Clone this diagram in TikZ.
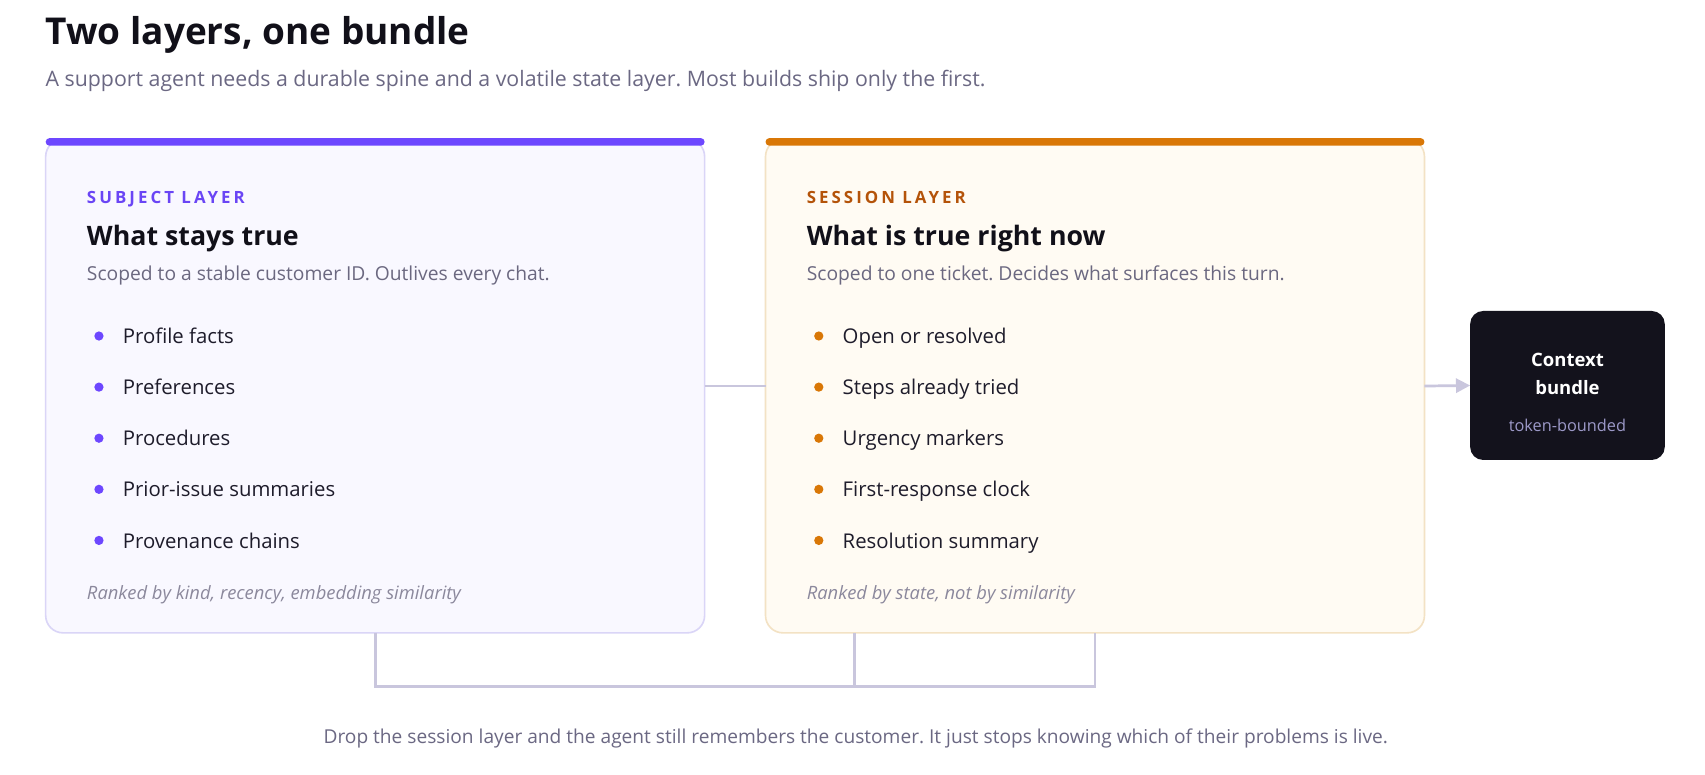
\documentclass[tikz,border=0pt]{standalone}
\usepackage{fontspec}
\setmainfont{Open Sans}
\usetikzlibrary{arrows.meta,calc}
\definecolor{ink}{HTML}{111019}
\definecolor{subc}{HTML}{6B6883}
\definecolor{purp}{HTML}{6D47FF}
\definecolor{purlab}{HTML}{6A45F5}
\definecolor{cardAf}{HTML}{F9F8FF}
\definecolor{cardAd}{HTML}{DAD5F7}
\definecolor{orng}{HTML}{D97706}
\definecolor{orlab}{HTML}{B45309}
\definecolor{cardBf}{HTML}{FFFBF3}
\definecolor{cardBd}{HTML}{F3E2C4}
\definecolor{itemc}{HTML}{1E1C2B}
\definecolor{descc}{HTML}{6B6880}
\definecolor{footc}{HTML}{8B889C}
\definecolor{linec}{HTML}{C9C6DD}
\definecolor{ctxc}{HTML}{13121C}
\definecolor{tokc}{HTML}{9C99C8}
\begin{document}
\frenchspacing
\begin{tikzpicture}[x=1pt,y=-1pt,
  every node/.style={inner sep=0pt, outer sep=0pt},
  txt/.style={anchor=base west},
  ttl/.style={txt, font=\fontsize{34}{40}\selectfont\bfseries, text=ink},
  subt/.style={txt, font=\fontsize{19.6}{24}\selectfont, text=subc},
  lab/.style={txt, font=\fontsize{15.5}{18}\selectfont\bfseries\addfontfeatures{LetterSpace=18}},
  head/.style={txt, font=\fontsize{24.6}{30}\selectfont\bfseries, text=ink},
  desc/.style={txt, font=\fontsize{17.7}{21}\selectfont, text=descc},
  item/.style={txt, font=\fontsize{18.7}{22}\selectfont, text=itemc},
  foot/.style={txt, font=\fontsize{16.9}{20}\selectfont\itshape, text=footc},
  dot/.style={circle, minimum size=8.5pt},
  card/.style={rounded corners=16pt, line width=1.5pt, minimum width=606pt, minimum height=454pt},
  conn/.style={draw=linec, line width=2.5pt},
]
\fill[white] (0,0) rectangle (1568,712);
\useasboundingbox (0,0) rectangle (1568,712);

% title
\node[ttl] (title) at (42,41) {Two layers, one bundle};
\node[subt] (subtitle) at (42,80) {A support agent needs a durable spine and a volatile state layer. Most builds ship only the first.};

% cards
\node[card, draw=cardAd, fill=cardAf] (subj) at (345,355) {};
\node[card, draw=cardBd, fill=cardBf] (sess) at (1007,355) {};
\fill[purp, rounded corners=3.5pt] ([yshift=1pt]subj.north west) rectangle ([yshift=-6pt]subj.north east);
\fill[orng, rounded corners=3.5pt] ([yshift=1pt]sess.north west) rectangle ([yshift=-6pt]sess.north east);

% subject layer content
\node[lab, text=purlab] (sl) at (80,187) {SUBJECT LAYER};
\node[head] (sh) at (80,226) {What stays true};
\node[desc] (sd) at (80,258) {Scoped to a stable customer ID. Outlives every chat.};
\foreach \t [count=\i] in {Profile facts, Preferences, Procedures, Prior-issue summaries, Provenance chains} {
  \node[dot, fill=purp] (sdot\i) at (91,262+47*\i) {};
  \node[item] (sitem\i) at (113,269+47*\i) {\t};
}
\node[foot] (sf) at (80,551) {Ranked by kind, recency, embedding similarity};

% session layer content
\node[lab, text=orlab] (el) at (742,187) {SESSION LAYER};
\node[head] (eh) at (742,226) {What is true right now};
\node[desc] (ed) at (742,258) {Scoped to one ticket. Decides what surfaces this turn.};
\foreach \t [count=\i] in {Open or resolved, Steps already tried, Urgency markers, First-response clock, Resolution summary} {
  \node[dot, fill=orng] (edot\i) at (753,262+47*\i) {};
  \node[item] (eitem\i) at (775,269+47*\i) {\t};
}
\node[foot] (ef) at (742,551) {Ranked by state, not by similarity};

% context bundle
\node[fill=ctxc, rounded corners=12pt, minimum width=179pt, minimum height=137pt] (ctx) at (1441.5,354.5) {};
\node[anchor=base, font=\fontsize{17}{20}\selectfont\bfseries, text=white] (c1) at (1441.5,337) {Context};
\node[anchor=base, font=\fontsize{17}{20}\selectfont\bfseries, text=white] (c2) at (1441.5,363) {bundle};
\node[anchor=base, font=\fontsize{15}{18}\selectfont, text=tokc] (c3) at (1441.5,397) {token-bounded};

% connectors
\draw[conn] (subj.east) -- (sess.west);
\draw[conn, -{Triangle[length=13pt,width=13pt]}] (sess.east) -- (ctx.west);
\coordinate (bus) at (786,631);
\draw[conn] (subj.south) -- (subj.south |- bus) -- (sess.south |- bus) -- (sess.south);
\draw[conn] (sess.south -| bus) -- (bus);

% bottom note
\node[anchor=base, font=\fontsize{17.6}{21}\selectfont, text=subc] (note) at (787,684) {Drop the session layer and the agent still remembers the customer. It just stops knowing which of their problems is live.};
\end{tikzpicture}
\end{document}
